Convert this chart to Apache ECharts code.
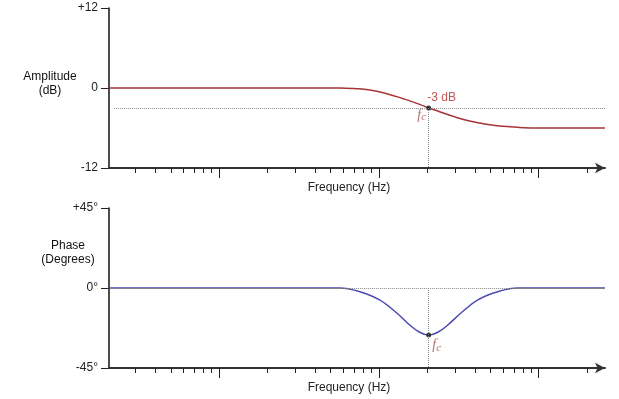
<!DOCTYPE html>
<html>
<head>
<meta charset="UTF-8">
<title>Filter response</title>
<style>
	* { margin: 0; padding: 0; }
	html, body { width: 100%; height: 100%; overflow: hidden; background-color: #fff; }
	#chart { width: 619px; height: 399px; }
</style>
</head>
<body>
<div id="chart"></div>
<script src="https://cdn.jsdelivr.net/npm/echarts@6/dist/echarts.min.js"></script>
<script>
	// frequency range (Hz) and corner frequency
	var freqMin = 2.05, freqMax = 2600;
	var fc = 205;
	var majorTicksHz = [10, 100, 1000];
	var minorTicksHz = [3, 4, 5, 6, 7, 8, 9,
		20, 30, 40, 50, 60, 70, 80, 90,
		200, 300, 400, 500, 600, 700, 800, 900, 2000];

	// amplitude curve (dB)
	var ampFreq = [2.05, 40, 57, 70, 88, 112, 142, 180, 205, 240, 291, 370, 471, 598, 760, 1000, 2600];
	var ampDb = [0, 0, 0, -0.08, -0.3, -0.85, -1.6, -2.45, -3, -3.55, -4.25, -4.95, -5.45, -5.75, -5.92, -6, -6];
	var ampTickValues = [-12, 0, 12];
	var ampTickLabels = ['-12', '0', '+12'];

	// phase curve (degrees)
	var phaseFreq = [2.05, 40, 57, 76, 101, 130, 156, 180, 205, 234, 270, 325, 416, 554, 740, 1000, 2600];
	var phaseDeg = [0, 0, 0, -2.1, -6.7, -14.2, -20.8, -24.9, -26.5, -24.9, -20.8, -14.2, -6.7, -2.1, 0, 0, 0];
	var phaseTickValues = [-45, 0, 45];
	var phaseTickLabels = ['-45°', '0°', '+45°'];

	function lg(v) {
		return Math.log10(v);
	}

	function zip(fs, vs) {
		return fs.map(function(f, i) {
			return [lg(f), vs[i]];
		});
	}

	function tickLabel(values, labels) {
		return function(v) {
			var i = values.indexOf(v);
			return i < 0 ? '' : labels[i];
		};
	}

	var fcStyle = {
		f: { fontFamily: 'Liberation Serif', fontStyle: 'italic', fontSize: 14, color: '#a04848' },
		c: { fontFamily: 'Liberation Serif', fontStyle: 'italic', fontSize: 11, color: '#a04848', padding: [5, 0, 0, 0] }
	};

	function freqAxis(grid, major) {
		var ax = {
			type: 'value',
			gridIndex: grid,
			position: 'bottom',
			min: lg(freqMin),
			max: lg(freqMax),
			splitLine: { show: false },
			axisLabel: { show: false },
			axisLine: { onZero: false, show: false },
			axisTick: {
				show: true,
				inside: false,
				length: major ? 10 : 5,
				lineStyle: { color: '#222', width: 1 },
				customValues: (major ? majorTicksHz : minorTicksHz).map(lg)
			}
		};
		if (!major) {
			ax.axisLine = {
				onZero: false,
				show: true,
				symbol: ['none', 'arrow'],
				symbolSize: [8, 10],
				lineStyle: { color: '#333', width: 2 }
			};
			ax.name = 'Frequency (Hz)';
			ax.nameLocation = 'middle';
			ax.nameGap = 14;
			ax.nameMoveOverlap = false;
			ax.nameTextStyle = { fontSize: 12, color: '#222', padding: [0, 16, 0, 0] };
		}
		return ax;
	}

	function valAxis(grid, min, max, values, labels) {
		return {
			type: 'value',
			gridIndex: grid,
			min: min,
			max: max,
			interval: max,
			splitLine: { show: false },
			axisLine: { show: true, onZero: false, lineStyle: { color: '#111', width: 1.5 } },
			axisTick: { show: true, length: 8, lineStyle: { color: '#222', width: 1 } },
			axisLabel: { margin: 11, fontSize: 12, color: '#222', formatter: tickLabel(values, labels) }
		};
	}

	// y axis titles, two lines centred
	function axisTitle(text, cx, top) {
		return {
			type: 'text',
			x: cx,
			y: top,
			style: {
				text: text,
				align: 'center',
				verticalAlign: 'top',
				lineHeight: 14,
				fontSize: 12,
				fontFamily: 'Liberation Sans, Arial, Helvetica, sans-serif',
				fill: '#111'
			}
		};
	}

	var chart = echarts.init(document.getElementById('chart'));
	var option = {
		animation: false,
		backgroundColor: '#fff',
		textStyle: { fontFamily: 'Liberation Sans, Arial, Helvetica, sans-serif' },
		grid: [
			{ left: 109, right: 14, top: 8, bottom: 231, outerBoundsMode: 'none' },
			{ left: 109, right: 14, top: 208, bottom: 31, outerBoundsMode: 'none' }
		],
		graphic: [
			axisTitle('Amplitude\n(dB)', 50, 70),
			axisTitle('Phase\n(Degrees)', 68, 239)
		],
		xAxis: [
			freqAxis(0, false), freqAxis(0, true),
			freqAxis(1, false), freqAxis(1, true)
		],
		yAxis: [
			valAxis(0, -12, 12, ampTickValues, ampTickLabels),
			valAxis(1, -45, 45, phaseTickValues, phaseTickLabels)
		],
		series: [
			// dotted guides
			{
				type: 'line', xAxisIndex: 0, yAxisIndex: 0, data: [], z: 1,
				markLine: {
					silent: true, symbol: 'none', label: { show: false },
					lineStyle: { type: 'dotted', color: '#888', width: 1 },
					data: [
						[{ coord: [lg(2.2), -3] }, { coord: [lg(freqMax), -3] }],
						[{ coord: [lg(fc), -3] }, { coord: [lg(fc), -12] }]
					]
				}
			},
			{
				type: 'line', xAxisIndex: 2, yAxisIndex: 1, data: [], z: 1,
				markLine: {
					silent: true, symbol: 'none', label: { show: false },
					lineStyle: { type: 'dotted', color: '#888', width: 1 },
					data: [
						[{ coord: [lg(2.2), 0] }, { coord: [lg(freqMax), 0] }],
						[{ coord: [lg(fc), 0] }, { coord: [lg(fc), -45] }]
					]
				}
			},
			{
				name: 'Amplitude', type: 'line', xAxisIndex: 0, yAxisIndex: 0, z: 2,
				data: zip(ampFreq, ampDb),
				showSymbol: false, smooth: 0.5,
				lineStyle: { color: '#a83434', width: 1.5 }
			},
			{
				name: 'Phase', type: 'line', xAxisIndex: 2, yAxisIndex: 1, z: 2,
				data: zip(phaseFreq, phaseDeg),
				showSymbol: false, smooth: 0.4,
				lineStyle: { color: '#4b4bb0', width: 1.5 }
			},
			{
				type: 'scatter', xAxisIndex: 0, yAxisIndex: 0, z: 3,
				symbolSize: 5,
				itemStyle: { color: '#111' },
				data: [
					{
						value: [lg(fc), -3],
						label: { show: true, position: 'inside', offset: [13, -10], formatter: '-3 dB', color: '#b02a2a', fontSize: 12 }
					},
					{
						value: [lg(fc), -3], symbolSize: 1, itemStyle: { color: 'rgba(0,0,0,0)' },
						label: { show: true, position: 'inside', offset: [-7, 7], formatter: '{f|f}{c|c}', rich: fcStyle }
					}
				]
			},
			{
				type: 'scatter', xAxisIndex: 2, yAxisIndex: 1, z: 3,
				symbolSize: 5,
				itemStyle: { color: '#111' },
				data: [
					{
						value: [lg(fc), -26.5],
						label: { show: true, position: 'inside', offset: [8, 10], formatter: '{f|f}{c|c}', rich: fcStyle }
					}
				]
			}
		]
	};
	chart.setOption(option);
</script>
</body>
</html>
